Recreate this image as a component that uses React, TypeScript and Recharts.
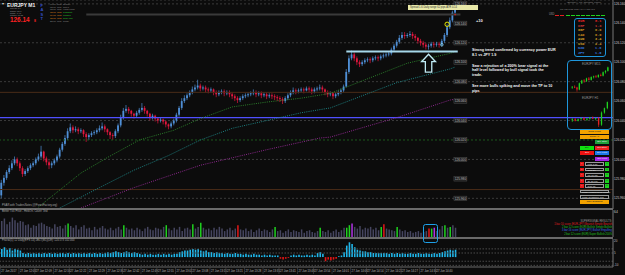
import React from 'react';
import { ComposedChart, Bar, Line, XAxis, YAxis, CartesianGrid, ReferenceLine, ReferenceDot, Cell } from 'recharts';

// EURJPY M1 candles [open, high, low, close]
const candles = [
  [125.963,125.979,125.960,125.976],[125.976,125.984,125.973,125.981],[125.981,125.989,125.979,125.987],[125.987,125.994,125.985,125.991],
  [125.991,125.999,125.989,125.996],[125.996,126.003,125.994,126.000],[126.000,126.002,125.993,125.996],[125.996,125.998,125.988,125.991],
  [125.991,125.993,125.982,125.985],[125.985,125.990,125.983,125.988],[125.988,125.993,125.986,125.991],[125.991,125.996,125.989,125.994],
  [125.994,125.998,125.992,125.996],[125.996,126.002,125.994,126.000],[126.000,126.006,125.998,126.003],[126.003,126.014,126.001,126.008],
  [126.008,126.009,125.998,126.001],[126.001,126.003,125.994,125.997],[125.997,125.999,125.990,125.994],[125.994,125.998,125.991,125.996],
  [125.996,126.001,125.994,125.999],[125.999,126.005,125.997,126.003],[126.003,126.012,126.001,126.010],[126.010,126.018,126.008,126.016],
  [126.016,126.025,126.014,126.022],[126.022,126.032,126.020,126.029],[126.029,126.037,126.027,126.033],[126.033,126.035,126.027,126.030],
  [126.030,126.034,126.028,126.031],[126.031,126.033,126.026,126.029],[126.029,126.032,126.027,126.030],[126.030,126.031,126.023,126.026],
  [126.026,126.028,126.018,126.023],[126.023,126.027,126.020,126.025],[126.025,126.029,126.023,126.027],[126.027,126.030,126.025,126.028],
  [126.028,126.032,126.026,126.030],[126.030,126.035,126.028,126.032],[126.032,126.038,126.030,126.034],[126.034,126.036,126.028,126.031],
  [126.031,126.032,126.025,126.028],[126.028,126.029,126.021,126.025],[126.025,126.027,126.020,126.024],[126.024,126.031,126.022,126.029],
  [126.029,126.037,126.027,126.035],[126.035,126.046,126.033,126.043],[126.043,126.053,126.041,126.050],[126.050,126.056,126.048,126.052],
  [126.052,126.054,126.047,126.050],[126.050,126.051,126.044,126.047],[126.047,126.048,126.042,126.045],[126.045,126.050,126.043,126.048],
  [126.048,126.053,126.046,126.051],[126.051,126.058,126.049,126.053],[126.053,126.055,126.047,126.050],[126.050,126.051,126.044,126.047],
  [126.047,126.048,126.040,126.043],[126.043,126.047,126.041,126.045],[126.045,126.046,126.039,126.042],[126.042,126.043,126.037,126.040],
  [126.040,126.043,126.038,126.041],[126.041,126.042,126.036,126.039],[126.039,126.040,126.033,126.036],[126.036,126.037,126.031,126.034],
  [126.034,126.039,126.032,126.037],[126.037,126.042,126.035,126.040],[126.040,126.048,126.038,126.046],[126.046,126.055,126.044,126.053],
  [126.053,126.063,126.051,126.060],[126.060,126.066,126.058,126.063],[126.063,126.068,126.061,126.066],[126.066,126.071,126.064,126.069],
  [126.069,126.075,126.067,126.072],[126.072,126.077,126.070,126.074],[126.074,126.082,126.072,126.076],[126.076,126.078,126.070,126.073],
  [126.073,126.076,126.071,126.074],[126.074,126.076,126.069,126.072],[126.072,126.074,126.068,126.071],[126.071,126.074,126.069,126.072],
  [126.072,126.073,126.066,126.069],[126.069,126.071,126.064,126.067],[126.067,126.071,126.065,126.069],[126.069,126.072,126.067,126.070],
  [126.070,126.072,126.065,126.068],[126.068,126.071,126.066,126.069],[126.069,126.071,126.064,126.067],[126.067,126.069,126.062,126.065],
  [126.065,126.067,126.060,126.063],[126.063,126.065,126.058,126.061],[126.061,126.065,126.059,126.063],[126.063,126.067,126.061,126.065],
  [126.065,126.068,126.063,126.066],[126.066,126.069,126.064,126.067],[126.067,126.070,126.065,126.068],[126.068,126.072,126.066,126.069],
  [126.069,126.071,126.064,126.067],[126.067,126.070,126.065,126.068],[126.068,126.070,126.063,126.066],[126.066,126.069,126.064,126.067],
  [126.067,126.069,126.062,126.065],[126.065,126.068,126.063,126.066],[126.066,126.068,126.062,126.065],[126.065,126.067,126.061,126.064],
  [126.064,126.066,126.060,126.063],[126.063,126.065,126.059,126.062],[126.062,126.064,126.057,126.060],[126.060,126.065,126.058,126.063],
  [126.063,126.068,126.061,126.066],[126.066,126.071,126.064,126.069],[126.069,126.074,126.067,126.071],[126.071,126.073,126.067,126.070],
  [126.070,126.073,126.068,126.071],[126.071,126.074,126.069,126.072],[126.072,126.074,126.068,126.071],[126.071,126.075,126.070,126.073],
  [126.073,126.075,126.069,126.072],[126.072,126.074,126.067,126.070],[126.070,126.074,126.068,126.072],[126.072,126.075,126.070,126.073],
  [126.073,126.077,126.071,126.074],[126.074,126.076,126.069,126.072],[126.072,126.073,126.066,126.069],[126.069,126.071,126.064,126.067],
  [126.067,126.070,126.065,126.068],[126.068,126.069,126.062,126.065],[126.065,126.069,126.063,126.067],[126.067,126.071,126.065,126.069],
  [126.069,126.073,126.067,126.071],[126.071,126.077,126.069,126.075],[126.075,126.093,126.074,126.090],[126.090,126.107,126.088,126.104],
  [126.104,126.112,126.102,126.108],[126.108,126.110,126.101,126.104],[126.104,126.106,126.097,126.100],[126.100,126.102,126.095,126.098],
  [126.098,126.102,126.096,126.100],[126.100,126.104,126.098,126.102],[126.102,126.105,126.100,126.103],[126.103,126.105,126.099,126.102],
  [126.102,126.106,126.100,126.104],[126.104,126.107,126.102,126.105],[126.105,126.107,126.101,126.104],[126.104,126.108,126.102,126.106],
  [126.106,126.109,126.104,126.107],[126.107,126.110,126.105,126.108],[126.108,126.111,126.106,126.109],[126.109,126.115,126.107,126.113],
  [126.113,126.119,126.111,126.117],[126.117,126.123,126.115,126.121],[126.121,126.128,126.119,126.125],[126.125,126.131,126.123,126.128],
  [126.128,126.131,126.124,126.127],[126.127,126.130,126.125,126.128],[126.128,126.132,126.126,126.129],[126.129,126.131,126.124,126.127],
  [126.127,126.129,126.122,126.125],[126.125,126.126,126.119,126.122],[126.122,126.124,126.117,126.120],[126.120,126.122,126.115,126.118],
  [126.118,126.120,126.113,126.116],[126.116,126.119,126.113,126.117],[126.117,126.121,126.115,126.119],[126.119,126.121,126.115,126.118],
  [126.118,126.121,126.116,126.119],[126.119,126.121,126.115,126.118],[126.118,126.124,126.116,126.122],[126.122,126.130,126.120,126.128],
  [126.128,126.139,126.126,126.136],[126.136,126.146,126.134,126.143],[126.143,126.153,126.141,126.151],[126.151,126.158,126.149,126.154],
];

// moving averages read at a few bars: [bar, price]
const maGreen = [[14,125.951],[30,125.986],[40,126.002],[52,126.020],[65,126.030],[75,126.042],[87,126.054],[100,126.059],[113,126.063],[124,126.068],[139,126.084],[153,126.099],[169,126.109],[171,126.111]];
const maTeal = [[22,125.950],[37,125.971],[50,125.989],[63,126.004],[75,126.020],[87,126.032],[100,126.040],[113,126.048],[124,126.053],[149,126.079],[169,126.093],[171,126.095]];
const maPurple = [[30,125.950],[50,125.971],[75,125.994],[100,126.010],[120,126.022],[124,126.023],[149,126.043],[169,126.061],[171,126.062]];

const priceTicks = [125.96, 125.98, 126.0, 126.02, 126.04, 126.06, 126.08, 126.1, 126.12, 126.14, 126.16];

const volumes = [
  38,44,30,36,46,40,34,38,36,28, 30,22,28,26,32,34,30,26,24,20, 30,24,26,20,28,32,26,22,28,18,
  24,28,20,22,16,24,18,22,26,20, 18,22,16,20,24,18,28,22,18,20, 16,22,18,14,20,24,18,16,22,20,
  18,24,28,20,16,22,18,24,14,20, 22,18,30,20,24,34,22,18,20,16, 22,18,24,20,14,18,22,16,20,28,
  18,16,20,14,18,12,16,20,14,18, 16,12,18,24,14,16,10,14,18,12, 16,14,12,18,10,14,16,12,10,14,
  22,14,12,16,10,14,18,12,16,22, 22,28,32,24,20,26,18,22,20,24, 18,22,16,24,30,20,18,16,14,24,
  18,14,16,12,14,10,12,14,10,12, 14,20,20,22,14,18,26,28,22,24, 28,22,
];
const greenBars = [25, 46, 62, 72, 75, 103, 120, 130, 131, 143, 149, 162, 167, 169];
const redBars = [89, 144, 161];
const magentaBars = [132, 163];

const oscillator = [
  10,12,9,11,8,10,9,8,5,4, 5,4,5,4,5,4,5,4,5,4, 5,4,5,5,4,5,4,5,4,5, 4,5,4,5,4,5,4,5,4,5,
  6,5,6,7,6,5,6,7,6,5, 6,5,4,3,4,3,4,3,3,4, 3,4,3,4,3,4,4,6,7,8, 8,9,10,9,10,8,7,8,6,6,
  5,6,5,5,4,5,4,4,5,4, 4,3,4,3,3,4,3,3,2,3, 2,3,2,2,2,-2,-3,-2,-1,2, 3,2,3,2,2,3,2,3,2,5,
  6,4,-5,-3,-4,-3,-2,1,2,6, 14,18,16,12,9,8,7,7,6,6, 5,5,5,5,5,5,4,5,4,5, 4,5,4,4,5,4,4,5,4,4,
  5,4,4,5,4,5,6,7,8,9, 8,9,
];

const timeTickIdx = [0, 7, 13, 20, 26, 33, 40, 46, 53, 59, 66, 72, 79, 85, 92, 99, 105, 112, 118, 125, 132, 138, 145, 151, 158, 164];
const timeLabels = ['27 Jun 2017', '27 Jun 12:03', '27 Jun 12:09', '27 Jun 12:16', '27 Jun 12:22', '27 Jun 12:29', '27 Jun 12:36',
  '27 Jun 12:42', '27 Jun 12:49', '27 Jun 12:55', '27 Jun 13:02', '27 Jun 13:08', '27 Jun 13:15', '27 Jun 13:21', '27 Jun 13:28',
  '27 Jun 13:35', '27 Jun 13:41', '27 Jun 13:48', '27 Jun 13:54', '27 Jun 14:01', '27 Jun 14:08', '27 Jun 14:14', '27 Jun 14:21',
  '27 Jun 14:27', '27 Jun 14:34', '27 Jun 14:40'];

const m15Candles = [
  [125.86,125.88,125.84,125.87],[125.87,125.89,125.85,125.86],[125.86,125.87,125.80,125.83],[125.83,125.93,125.82,125.92],
  [125.92,125.97,125.91,125.96],[125.96,125.98,125.93,125.95],[125.95,126.00,125.94,125.99],[125.99,126.01,125.96,125.97],
  [125.97,126.02,125.96,126.01],[126.01,126.03,125.99,126.02],[126.02,126.04,126.00,126.01],[126.01,126.05,126.00,126.04],
  [126.04,126.06,126.02,126.03],[126.03,126.09,126.02,126.08],[126.08,126.11,126.06,126.10],[126.10,126.16,126.09,126.15],
];
const h1Candles = [
  [125.82,125.86,125.79,125.84],[125.84,125.86,125.80,125.81],[125.81,125.85,125.80,125.84],[125.84,125.87,125.83,125.86],
  [125.86,125.88,125.82,125.83],[125.83,125.86,125.81,125.85],[125.85,125.88,125.83,125.87],[125.87,125.89,125.84,125.85],
  [125.85,125.87,125.82,125.86],[125.86,125.88,125.70,125.74],[125.74,125.98,125.72,125.96],[125.96,126.05,125.94,126.04],
  [126.04,126.16,126.02,126.15],
];

const strengthCur = ['EUR', 'CHF', 'GBP', 'CAD', 'AUD', 'USD', 'NZD', 'JPY'];
const strengthVal = ['8.1', '1.3', '0.0', '0.0', '3.4', '2.4', '1.9', '1.9'];
const strengthCol = ['#e42222', '#d23a3a', '#c48a1e', '#c9861c', '#d6a52a', '#c9962a', '#2f6fd6', '#3582e6'];

const sessions = [
  ['00:00', 'Sydney', '#8a8a8a', '#8a8a8a'],
  ['02:00', 'Tokyo', '#8a8a8a', '#8a8a8a'],
  ['03:00', 'Hong Kong', '#8a8a8a', '#8a8a8a'],
  ['08:00', 'Frankfurt', '#e08a1a', '#2ad02a'],
  ['09:00', 'London', '#e08a1a', '#2ad02a'],
  ['15:00', 'New York', '#e08a1a', '#2ad02a'],
  ['23:00', 'Close', '#8a8a8a', '#8a8a8a'],
];
const infoRows = ['Spread: 1.6', 'Range: 20.7', 'Swap: -0.41', 'Candle: 00:38'];

const noteLines = [
  'Strong trend confirmed by currency power EUR', '8.1 vs JPY 1.9', '',
  'Saw a rejection of a 200% bear signal at the', 'half level followed by bull signal took the', 'trade.', '',
  'See more bulls spiking and move the TP to 10', 'pips',
];
const noteTops = [49, 53.8, 0, 64.5, 69.3, 74.1, 0, 85, 89.8];

const volLegend = [
  ['SUPERSIGNAL RESULTS:', '#9a9a9a'],
  ['1 bar 10 score (EUR-JPY) Bearish Simple Bearish', '#e02020'],
  ['2 bar 12 score (EUR) Bullish Simple Bullish', '#22c022'],
  ['3 bar 16 score (EUR-JPY) Bullish Engulfing', '#3a6ae8'],
  ['2 bar 12 score (EUR) Super Bullish 200%', '#22c022'],
];

const buttons = [
  { t: 'Close Profit', x: 580, y: 129.5, w: 29, bg: '#f2a200', fg: '#1a1a1a' },
  { t: 'Close All', x: 580, y: 134.5, w: 29, bg: '#f2a200', fg: '#1a1a1a' },
  { t: 'Buy Stop', x: 595, y: 140, w: 14, bg: '#1f9f3a', fg: '#eaeaea' },
  { t: 'Buy', x: 580, y: 145.5, w: 14, bg: '#10e010', fg: '#1a1a1a' },
  { t: 'Sell Stop', x: 595, y: 145.5, w: 14, bg: '#ec2020', fg: '#eaeaea' },
  { t: 'Sell', x: 580, y: 151, w: 14, bg: '#ec1212', fg: '#eaeaea' },
  { t: 'Buy Limit', x: 595, y: 151, w: 14, bg: '#1e78e8', fg: '#eaeaea' },
  { t: 'Sell Limit', x: 595, y: 156.5, w: 14, bg: '#a424e4', fg: '#eaeaea' },
];
const paramRows = ['Lots 1.00', 'Pips 30', 'TP 10 pip', 'SL 20 pip', 'Trail 15'];

const SLOTS = 231;
const maAt = (list: number[][], i: number) => {
  const f = list.find((p) => p[0] === i);
  return f ? f[1] : null;
};
const rows = Array.from({ length: SLOTS }, (_, i) => {
  const c = candles[i];
  return {
    i,
    ohlc: c,
    range: c ? [c[2], c[1]] : null,
    maG: maAt(maGreen, i),
    maT: maAt(maTeal, i),
    maP: maAt(maPurple, i),
    vol: volumes[i] ?? null,
    osc: oscillator[i] ?? null,
  };
});
const miniRows = (list: number[][]) => list.map((c, k) => ({ k, ohlc: c, range: [c[2], c[1]] }));

const volColor = (i: number) =>
  greenBars.includes(i) ? '#1fd21f' : redBars.includes(i) ? '#e41818' : magentaBars.includes(i) ? '#b232e6' : '#45455f';

const Candle = (props: any) => {
  const { x, y, width, height, payload, up, down, bw } = props;
  if (!payload || !payload.ohlc) return null;
  const [o, h, l, c] = payload.ohlc;
  const top = height >= 0 ? y : y + height;
  const hh = Math.abs(height);
  const k = h > l ? hh / (h - l) : 0;
  const cx = x + width / 2;
  const yo = top + (h - o) * k;
  const yc = top + (h - c) * k;
  const col = c >= o ? up : down;
  return (
    <g>
      <line x1={cx} x2={cx} y1={top} y2={top + hh} stroke={col} strokeWidth={0.7} />
      <rect x={cx - bw / 2} y={Math.min(yo, yc)} width={bw} height={Math.max(0.8, Math.abs(yc - yo))} fill={col} />
    </g>
  );
};

const LevelTag = (props: any) => {
  const { cx, cy, label } = props;
  return (
    <g>
      <rect x={cx - 6.5} y={cy - 2.2} width={13} height={4.4} fill="#1d1d1d" stroke="#5c5c5c" strokeWidth={0.4} />
      <text x={cx} y={cy + 1.2} fontSize={3.2} fill="#b8b8b8" textAnchor="middle">{label}</text>
    </g>
  );
};

const UpArrow = (props: any) => {
  const { cx, cy } = props;
  const d = `M${cx},${cy - 9} L${cx - 7},${cy - 1.5} L${cx - 3.2},${cy - 1.5} L${cx - 3.2},${cy + 9} L${cx + 3.2},${cy + 9} L${cx + 3.2},${cy - 1.5} L${cx + 7},${cy - 1.5} Z`;
  return <path d={d} fill="#0c0c0c" stroke="#bfeaf4" strokeWidth={1.3} strokeLinejoin="miter" />;
};

const TimeTick = (props: any) => {
  const { x, y, payload } = props;
  const k = timeTickIdx.indexOf(payload.value);
  if (k < 0) return null;
  return (
    <g>
      <line x1={x - 1} x2={x - 1} y1={y} y2={y + 7} stroke="#4a4a4a" strokeWidth={0.6} />
      <text x={x} y={y + 5} fontSize={2.75} fill="#bdbdbd">{timeLabels[k]}</text>
    </g>
  );
};

const Abs = ({ x, y, w, h, style, children }: any) => (
  <div style={{ position: 'absolute', left: x, top: y, width: w, height: h, whiteSpace: 'nowrap', lineHeight: 1, ...style }}>{children}</div>
);

const MiniCandles = ({ data, domain }: any) => (
  <ComposedChart width={38} height={27} data={miniRows(data)} margin={{ top: 0, right: 0, bottom: 0, left: 0 }}>
    <XAxis dataKey="k" hide />
    <YAxis hide domain={domain} allowDataOverflow />
    <Bar dataKey="range" isAnimationActive={false} shape={(p: any) => <Candle {...p} up="#1fd21f" down="#e42020" bw={1.3} />} />
  </ComposedChart>
);

export default function App() {
  return (
    <div style={{ position: 'absolute', left: 0, top: 0, width: 625, height: 275, overflow: 'hidden', background: '#0c0c0c', fontFamily: '"Liberation Sans", Arial, sans-serif' }}>
      {/* main price window */}
      <div style={{ position: 'absolute', left: 0, top: 0 }}>
        <ComposedChart width={625} height={209} data={rows} margin={{ top: 0, right: 0, bottom: 0, left: 0 }}>
          <CartesianGrid vertical={false} stroke="#3b3b3b" strokeDasharray="2 2" />
          <XAxis dataKey="i" type="category" hide />
          <YAxis orientation="right" width={12} domain={[125.949, 126.164]} allowDataOverflow ticks={priceTicks}
            tick={{ fontSize: 3.1, fill: '#d0d0d0', textAnchor: 'start' }} tickFormatter={(v: number) => v.toFixed(3)}
            axisLine={{ stroke: '#777' }} tickLine={false} tickSize={0} tickMargin={1} />
          <ReferenceLine y={126.02} stroke="#1d5a1d" strokeDasharray="2 2" />
          <ReferenceLine y={126.069} stroke="#4a2c18" />
          <ReferenceLine y={125.969} stroke="#4a2c18" />
          <ReferenceLine y={126.043} stroke="#5050ff" strokeWidth={1.4} />
          <ReferenceLine segment={[{ x: 32, y: 126.149 }, { x: 173, y: 126.149 }]} stroke="#3a3a3a" strokeWidth={2} />
          {priceTicks.map((p) => (
            <ReferenceDot key={p} x={173} y={p} r={1} shape={(s: any) => <LevelTag {...s} label={p.toFixed(3)} />} />
          ))}
          <Line dataKey="maG" stroke="#2e8a2e" strokeWidth={0.9} strokeDasharray="1 1.2" dot={false} connectNulls isAnimationActive={false} />
          <Line dataKey="maT" stroke="#1e8c8c" strokeWidth={0.9} strokeDasharray="1 1.2" dot={false} connectNulls isAnimationActive={false} />
          <Line dataKey="maP" stroke="#9a2a9a" strokeWidth={0.9} strokeDasharray="1 1.2" dot={false} connectNulls isAnimationActive={false} />
          <Bar dataKey="range" isAnimationActive={false} shape={(p: any) => <Candle {...p} up="#4f8fd6" down="#e3173e" bw={1.8} />} />
          <ReferenceLine segment={[{ x: 130, y: 126.111 }, { x: 172, y: 126.111 }]} stroke="#a6d8ea" strokeWidth={2} />
          <ReferenceDot x={161} y={126.099} r={1} shape={(s: any) => <UpArrow {...s} />} />
          <ReferenceDot x={168} y={126.139} r={2.2} fill="none" stroke="#e8e800" strokeWidth={1} />
          <ReferenceDot x={166} y={126.118} r={1.3} fill="none" stroke="#8fd8f0" strokeWidth={0.8} />
          <ReferenceDot x={171} y={126.149} r={0.8} fill="#e02020" stroke="none" />
        </ComposedChart>
      </div>

      {/* volume window */}
      <div style={{ position: 'absolute', left: 0, top: 210 }}>
        <ComposedChart width={625} height={27} data={rows} margin={{ top: 0, right: 0, bottom: 0, left: 0 }}>
          <XAxis dataKey="i" type="category" hide />
          <YAxis orientation="right" width={12} domain={[0, 64]} ticks={[0, 64]} tick={{ fontSize: 3.4, fill: '#c8c8c8', textAnchor: 'start' }}
            axisLine={{ stroke: '#777' }} tickLine={false} tickSize={0} tickMargin={1} />
          <Bar dataKey="vol" barSize={1.5} isAnimationActive={false}>
            {rows.map((r) => <Cell key={r.i} fill={volColor(r.i)} />)}
          </Bar>
        </ComposedChart>
      </div>

      {/* oscillator window + time axis */}
      <div style={{ position: 'absolute', left: 0, top: 239 }}>
        <ComposedChart width={625} height={36} data={rows} margin={{ top: 0, right: 0, bottom: 0, left: 0 }}>
          <XAxis dataKey="i" type="category" height={8} interval={0} tick={<TimeTick />} tickLine={false}
            tickSize={0} tickMargin={0} axisLine={{ stroke: '#6a6a6a' }} />
          <YAxis orientation="right" width={12} domain={[-12, 22]} ticks={[-10, -5, 0, 5, 10, 20]} allowDataOverflow
            tick={{ fontSize: 3, fill: '#c0c0c0', textAnchor: 'start' }} axisLine={{ stroke: '#777' }} tickLine={false} tickSize={0} tickMargin={1} />
          {[10, 5, -5, -10].map((v) => (
            <ReferenceLine key={v} y={v} stroke="#4a4a4a" strokeDasharray="1.5 1.5" />
          ))}
          <Bar dataKey="osc" barSize={1.6} isAnimationActive={false}>
            {rows.map((r) => <Cell key={r.i} fill={(r.osc ?? 0) < 0 ? '#e41414' : '#1fb6ea'} />)}
          </Bar>
        </ComposedChart>
      </div>

      {/* window separators */}
      <Abs x={0} y={208} w={613} h={1.6} style={{ background: '#6a6a6a' }} />
      <Abs x={0} y={237.4} w={613} h={1.6} style={{ background: '#6a6a6a' }} />

      {/* top-left info */}
      <Abs x={1.5} y={2} style={{ fontSize: 4, color: '#ddd' }}>▾</Abs>
      <Abs x={7} y={2.5} style={{ fontSize: 5, fontWeight: 700, color: '#f2f2f2' }}>EURJPY  M1</Abs>
      {infoRows.map((t, k) => (
        <Abs key={t} x={10} y={7.4 + k * 2.35} style={{ fontSize: 2.1, color: '#9a9a9a' }}>{t}</Abs>
      ))}
      <Abs x={10} y={17.4} style={{ fontSize: 6.4, fontWeight: 700, color: '#ff2222' }}>126.14</Abs>
      <Abs x={34} y={19.8} style={{ fontSize: 3.4, fontWeight: 700, color: '#ff2222' }}>8</Abs>
      {['F', 'A', 'S', 'T'].map((ch, k) => (
        <Abs key={k} x={40.5} y={4 + k * 4.3} style={{ fontSize: 4, fontWeight: 700, color: '#3450c8' }}>{ch}</Abs>
      ))}
      {sessions.map((s, k) => (
        <React.Fragment key={s[1]}>
          <Abs x={50} y={2.6 + k * 2.9} style={{ fontSize: 2.3, color: s[2] }}>{s[0]}</Abs>
          <Abs x={57} y={2.6 + k * 2.9} style={{ fontSize: 2.3, color: s[2] }}>JPN</Abs>
          <Abs x={63} y={2.6 + k * 2.9} style={{ fontSize: 2.3, color: s[3] }}>{s[1]}</Abs>
        </React.Fragment>
      ))}

      {/* yellow info band and note */}
      <Abs x={408} y={5} w={70} h={5} style={{ background: '#e8e8a8', fontSize: 2.6, color: '#333', paddingLeft: 2, boxSizing: 'border-box', lineHeight: '5px' }}>
        Spread 1.6   Daily range 62 pips   ATR 0.14
      </Abs>
      <Abs x={476} y={18.5} style={{ fontSize: 4, fontWeight: 700, color: '#f4f4f4' }}>+10</Abs>
      {noteLines.map((t, k) => (
        <Abs key={k} x={472} y={noteTops[k]} style={{ fontSize: 3.7, fontWeight: 700, color: '#f4f4f4' }}>{t}</Abs>
      ))}

      {/* currency strength */}
      <Abs x={567} y={2} style={{ fontSize: 2.5, color: '#8a8a8a' }}>[EURJPY_M1_strength_panel]</Abs>
      <Abs x={560} y={8.5} style={{ fontSize: 2.5, color: '#8a8a8a' }}>M1  M5  M15  M30  H1  H4  D1  W1</Abs>
      <Abs x={549} y={13.8} style={{ fontSize: 2.6, color: '#9a9a9a' }}>USD</Abs>
      {[555, 560].map((x) => <Abs key={x} x={x} y={14.5} w={4} h={1.6} style={{ background: '#e42020' }} />)}
      {[566, 571, 576, 581, 586, 591, 596, 601].map((x) => <Abs key={x} x={x} y={14.5} w={4} h={1.6} style={{ background: '#1fd21f' }} />)}
      <Abs x={574} y={18} w={32} h={39} style={{ border: '1.3px solid #1e96dc', borderRadius: 3, boxSizing: 'border-box' }} />
      {strengthCur.map((c, k) => (
        <React.Fragment key={c}>
          <Abs x={578} y={20.2 + k * 4.5} style={{ fontSize: 3.6, fontWeight: 700, color: strengthCol[k], fontFamily: '"Liberation Mono", monospace' }}>{c}</Abs>
          <Abs x={595} y={20.2 + k * 4.5} style={{ fontSize: 3.6, fontWeight: 700, color: strengthCol[k], fontFamily: '"Liberation Mono", monospace' }}>{strengthVal[k]}</Abs>
        </React.Fragment>
      ))}

      {/* mini charts */}
      <Abs x={567} y={60} w={45} h={70} style={{ border: '1.4px solid #1e96dc', borderRadius: 4, boxSizing: 'border-box' }} />
      <Abs x={582} y={63} style={{ fontSize: 3, color: '#9a9a9a' }}>EURJPY M15</Abs>
      <Abs x={582} y={97} style={{ fontSize: 3, color: '#9a9a9a' }}>EURJPY H1</Abs>
      <div style={{ position: 'absolute', left: 571, top: 66 }}>
        <MiniCandles data={m15Candles} domain={[125.78, 126.17]} />
      </div>
      <div style={{ position: 'absolute', left: 571, top: 101 }}>
        <MiniCandles data={h1Candles} domain={[125.68, 126.17]} />
      </div>

      {/* trade buttons */}
      {buttons.map((b) => (
        <Abs key={b.t} x={b.x} y={b.y} w={b.w} h={4.2} style={{ background: b.bg, color: b.fg, fontSize: 2.4, textAlign: 'center', lineHeight: '4.2px' }}>{b.t}</Abs>
      ))}
      {paramRows.map((t, k) => (
        <React.Fragment key={t}>
          <Abs x={580} y={162 + k * 5.6} w={4} h={3.8} style={{ background: '#e41a1a', color: '#fff', fontSize: 2.6, textAlign: 'center', lineHeight: '3.8px' }}>-</Abs>
          <Abs x={585} y={162 + k * 5.6} w={18.5} h={3.8} style={{ border: '0.5px solid #9a9a9a', boxSizing: 'border-box', color: '#ddd', fontSize: 2.4, paddingLeft: 1.5, lineHeight: '3.2px' }}>{t}</Abs>
          <Abs x={605} y={162 + k * 5.6} w={4} h={3.8} style={{ background: '#1fd21f', color: '#111', fontSize: 2.6, textAlign: 'center', lineHeight: '3.8px' }}>+</Abs>
        </React.Fragment>
      ))}
      <Abs x={580} y={189.5} w={29} h={3.8} style={{ border: '0.5px solid #9a9a9a', boxSizing: 'border-box', color: '#ddd', fontSize: 2.3, paddingLeft: 1, lineHeight: '3.2px' }}>Close Hedged & TR Trades</Abs>
      <Abs x={580} y={194.8} w={29} h={3.8} style={{ border: '0.5px solid #9a9a9a', boxSizing: 'border-box', color: '#ddd', fontSize: 2.3, paddingLeft: 1, lineHeight: '3.2px' }}>Close Neighbour Pos</Abs>
      <Abs x={580} y={200} w={29} h={4.3} style={{ background: '#f2a200', color: '#1a1a1a', fontSize: 2.4, textAlign: 'center', lineHeight: '4.3px' }}>Take Snapshot</Abs>

      {/* window titles */}
      <Abs x={2} y={204.5} style={{ fontSize: 2.7, color: '#a8a8a8' }}>PSAR with TradersNotes (@ForexFactory.org)</Abs>
      <Abs x={2} y={210.5} style={{ fontSize: 2.7, color: '#a8a8a8' }}>Better Tick Price - HeikOn. Count: 3nd</Abs>
      <Abs x={2} y={239.8} style={{ fontSize: 2.7, color: '#a8a8a8' }}>Fractal(5) 12 Daily(EPS 14) 1BLT(M1)(DE): 124.573 102.000</Abs>
      {volLegend.map((l, k) => (
        <Abs key={k} x={612} y={220.5 + k * 3.3} style={{ fontSize: 2.6, color: l[1], transform: 'translateX(-100%)' }}>{l[0]}</Abs>
      ))}
      <Abs x={423} y={224} w={15} h={19} style={{ border: '1.3px solid #1ea0e8', borderRadius: 2.5, boxSizing: 'border-box' }} />
    </div>
  );
}
